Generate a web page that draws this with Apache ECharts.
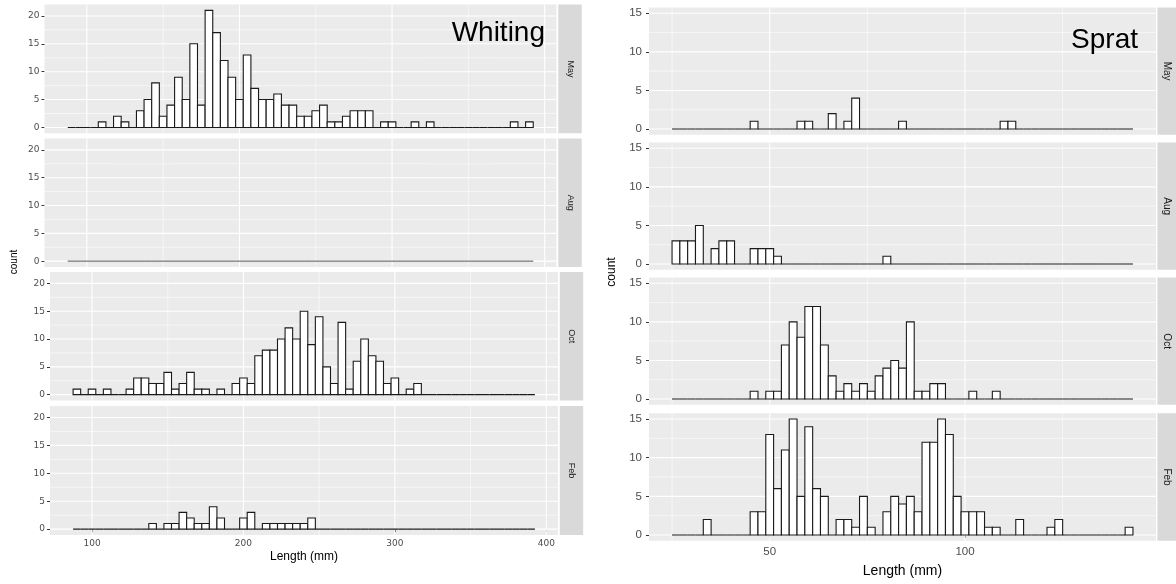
<!DOCTYPE html>
<html>
<head>
<meta charset="utf-8">
<title>Whiting and sprat length frequencies</title>
<script src="https://cdn.jsdelivr.net/npm/echarts@6/dist/echarts.min.js"></script>
<style>
  html, body { margin: 0; padding: 0; background: #fff; }
  #chart { width: 1176px; height: 584px; }
</style>
</head>
<body>
<div id="chart"></div>
<script>
// length bins in mm: start of first bin and bin width
var whitingStart = 87.5;
var whitingBinWidth = 5;
var spratStart = 25;
var spratBinWidth = 2;

var months = ['May', 'Aug', 'Oct', 'Feb'];

// counts per length bin
var whitingMay = [
  0, 0, 0, 0, 1, 0, 2, 1, 0, 3,
  5, 8, 2, 4, 9, 5, 15, 4, 21, 17,
  12, 9, 5, 13, 7, 5, 5, 6, 4, 4,
  2, 2, 3, 4, 1, 1, 2, 3, 3, 3,
  0, 1, 1, 0, 0, 1, 0, 1, 0, 0,
  0, 0, 0, 0, 0, 0, 0, 0, 1, 0,
  1
];
var whitingAug = []; // no whiting in August
var whitingOct = [
  1, 0, 1, 0, 1, 0, 0, 1, 3, 3,
  2, 2, 4, 1, 2, 4, 1, 1, 0, 1,
  0, 2, 3, 2, 7, 8, 8, 10, 12, 10,
  15, 9, 14, 5, 2, 13, 1, 6, 10, 7,
  6, 2, 3, 0, 1, 2, 0, 0, 0, 0,
  0, 0, 0, 0, 0, 0, 0, 0, 0, 0,
  0
];
var whitingFeb = [
  0, 0, 0, 0, 0, 0, 0, 0, 0, 0,
  1, 0, 1, 1, 3, 2, 1, 1, 4, 2,
  0, 0, 2, 3, 0, 1, 1, 1, 1, 1,
  1, 2, 0, 0, 0, 0, 0, 0, 0, 0,
  0, 0, 0, 0, 0, 0, 0, 0, 0, 0,
  0, 0, 0, 0, 0, 0, 0, 0, 0, 0,
  0
];

var spratMay = [
  0, 0, 0, 0, 0, 0, 0, 0, 0, 0,
  1, 0, 0, 0, 0, 0, 1, 1, 0, 0,
  2, 0, 1, 4, 0, 0, 0, 0, 0, 1,
  0, 0, 0, 0, 0, 0, 0, 0, 0, 0,
  0, 0, 1, 1, 0, 0, 0, 0, 0, 0,
  0, 0, 0, 0, 0, 0, 0, 0, 0
];
var spratAug = [
  3, 3, 3, 5, 0, 2, 3, 3, 0, 0,
  2, 2, 2, 1, 0, 0, 0, 0, 0, 0,
  0, 0, 0, 0, 0, 0, 0, 1, 0, 0,
  0, 0, 0, 0, 0, 0, 0, 0, 0, 0,
  0, 0, 0, 0, 0, 0, 0, 0, 0, 0,
  0, 0, 0, 0, 0, 0, 0, 0, 0
];
var spratOct = [
  0, 0, 0, 0, 0, 0, 0, 0, 0, 0,
  1, 0, 1, 1, 7, 10, 8, 12, 12, 7,
  3, 1, 2, 1, 2, 1, 3, 4, 5, 4,
  10, 1, 1, 2, 2, 0, 0, 0, 1, 0,
  0, 1, 0, 0, 0, 0, 0, 0, 0, 0,
  0, 0, 0, 0, 0, 0, 0, 0, 0
];
var spratFeb = [
  0, 0, 0, 0, 2, 0, 0, 0, 0, 0,
  3, 3, 13, 6, 11, 15, 5, 14, 6, 5,
  0, 2, 2, 1, 5, 1, 0, 3, 5, 4,
  5, 3, 12, 12, 15, 13, 5, 3, 3, 3,
  1, 1, 0, 0, 2, 0, 0, 0, 1, 2,
  0, 0, 0, 0, 0, 0, 0, 0, 1
];

var whitingTicks = [100, 200, 300, 400];
var whitingMinor = [150, 250, 350];
var whitingCountTicks = [0, 5, 10, 15, 20];
var whitingCountMinor = [2.5, 7.5, 12.5, 17.5];
var spratTicks = [50, 100];
var spratMinor = [25, 75, 125];
var spratCountTicks = [0, 5, 10, 15];
var spratCountMinor = [2.5, 7.5, 12.5];

// panel boxes in px (the two plots were pasted side by side)
var whitingPanels = [
  { top: 4.5, bottom: 133.3, left: 44.5, right: 556.5 },
  { top: 138.5, bottom: 267, left: 44.5, right: 556.5 },
  { top: 272, bottom: 400.5, left: 50, right: 558 },
  { top: 406, bottom: 535, left: 50, right: 558 }
];
var spratPanels = [
  { top: 7.5, bottom: 134.8, left: 649, right: 1156 },
  { top: 142.5, bottom: 269.8, left: 649, right: 1156 },
  { top: 277.5, bottom: 404.8, left: 649, right: 1156 },
  { top: 413.2, bottom: 540.8, left: 649, right: 1156 }
];

var columns = [
  {
    title: 'Whiting', titleX: 545, titleY: 33,
    start: whitingStart, binWidth: whitingBinWidth,
    counts: [whitingMay, whitingAug, whitingOct, whitingFeb],
    panels: whitingPanels,
    xTicks: whitingTicks, xMinor: whitingMinor,
    yTicks: whitingCountTicks, yMinor: whitingCountMinor,
    tickFont: 'DejaVu Sans', tickSize: 9, xMargin: 4, yMargin: 5,
    nameSize: 12, nameGap: 16, countX: 14, countY: 262, countSize: 10,
    stripGap: 1.8, stripWidth: 23.4, stripSize: 9
  },
  {
    title: 'Sprat', titleX: 1138, titleY: 40,
    start: spratStart, binWidth: spratBinWidth,
    counts: [spratMay, spratAug, spratOct, spratFeb],
    panels: spratPanels,
    xTicks: spratTicks, xMinor: spratMinor,
    yTicks: spratCountTicks, yMinor: spratCountMinor,
    tickFont: 'Liberation Sans', tickSize: 11.5, xMargin: 5, yMargin: 7,
    nameSize: 14, nameGap: 23, countX: 612, countY: 272, countSize: 12,
    stripGap: 1.4, stripWidth: 19.6, stripSize: 10
  }
];

function renderBar(lineWidth) {
  return function (params, api) {
    var lo = api.coord([api.value(0), 0]);
    var hi = api.coord([api.value(1), api.value(2)]);
    return {
      type: 'rect',
      shape: { x: lo[0], y: hi[1], width: hi[0] - lo[0], height: lo[1] - hi[1] },
      style: { fill: '#ffffff', stroke: lineWidth < 1 ? '#555' : '#1a1a1a', lineWidth: lineWidth }
    };
  };
}

function renderGridLine(params, api) {
  var cs = params.coordSys;
  var v = api.value(0);
  var w = api.value(2) ? 1.1 : 0.55;
  if (api.value(1)) {
    var px = api.coord([v, 0])[0];
    return { type: 'line', shape: { x1: px, y1: cs.y, x2: px, y2: cs.y + cs.height },
      style: { stroke: '#ffffff', lineWidth: w } };
  }
  var py = api.coord([v, v])[1];
  return { type: 'line', shape: { x1: cs.x, y1: py, x2: cs.x + cs.width, y2: py },
    style: { stroke: '#ffffff', lineWidth: w } };
}

var grids = [], xAxes = [], yAxes = [], series = [], graphic = [];

columns.forEach(function (col) {
  var nBins = Math.max.apply(null, col.counts.map(function (c) { return c.length; }));
  var end = col.start + nBins * col.binWidth;
  var span = end - col.start;
  var xMin = col.start - span * 0.05;
  var xMax = end + span * 0.05;
  var maxCount = Math.max.apply(null, col.counts.map(function (c) { return c.length ? Math.max.apply(null, c) : 0; }));
  var yMin = -maxCount * 0.05;
  var yMax = maxCount * 1.05;

  col.panels.forEach(function (p, r) {
    var k = grids.length;
    var isBottom = r === col.panels.length - 1;
    grids.push({ left: p.left, top: p.top, width: p.right - p.left, height: p.bottom - p.top,
      show: true, backgroundColor: '#ebebeb', borderWidth: 0 });

    xAxes.push({
      gridIndex: k, type: 'value', min: xMin, max: xMax,
      axisLine: { show: false }, splitLine: { show: false },
      axisTick: { show: isBottom, customValues: col.xTicks, length: 3, lineStyle: { color: '#333', width: 1 } },
      axisLabel: { show: isBottom, customValues: col.xTicks, color: '#4d4d4d',
        fontFamily: col.tickFont, fontSize: col.tickSize, margin: col.xMargin },
      name: isBottom ? 'Length (mm)' : '', nameLocation: 'middle', nameGap: col.nameGap,
      nameTextStyle: { color: '#000', fontFamily: 'Liberation Sans', fontSize: col.nameSize }
    });
    yAxes.push({
      gridIndex: k, type: 'value', min: yMin, max: yMax,
      axisLine: { show: false }, splitLine: { show: false },
      axisTick: { show: true, customValues: col.yTicks, length: 3, lineStyle: { color: '#333', width: 1 } },
      axisLabel: { customValues: col.yTicks, color: '#4d4d4d',
        fontFamily: col.tickFont, fontSize: col.tickSize, margin: col.yMargin }
    });

    var lines = [];
    col.xTicks.forEach(function (v) { lines.push([v, 1, 1]); });
    col.xMinor.forEach(function (v) { lines.push([v, 1, 0]); });
    col.yTicks.forEach(function (v) { lines.push([v, 0, 1]); });
    col.yMinor.forEach(function (v) { lines.push([v, 0, 0]); });
    series.push({
      type: 'custom', xAxisIndex: k, yAxisIndex: k, silent: true, z: 1,
      data: lines, encode: { x: 0, y: 0 }, renderItem: renderGridLine
    });

    var counts = col.counts[r];
    var bins = [];
    for (var i = 0; i < nBins; i++) {
      bins.push([col.start + i * col.binWidth, col.start + (i + 1) * col.binWidth, counts[i] || 0]);
    }
    series.push({
      type: 'custom', xAxisIndex: k, yAxisIndex: k, z: 2,
      data: bins, encode: { x: [0, 1], y: 2 },
      renderItem: renderBar(counts.length ? 1.1 : 0.6)
    });

    // facet strip
    graphic.push({ type: 'rect', silent: true,
      shape: { x: p.right + col.stripGap, y: p.top, width: col.stripWidth, height: p.bottom - p.top },
      style: { fill: '#d9d9d9' } });
    graphic.push({ type: 'text', silent: true,
      x: p.right + col.stripGap + col.stripWidth / 2, y: (p.top + p.bottom) / 2, rotation: -Math.PI / 2,
      style: { text: months[r], fill: '#1a1a1a', font: col.stripSize + 'px "Liberation Sans"',
        align: 'center', verticalAlign: 'middle' } });
  });

  graphic.push({ type: 'text', silent: true, x: col.countX, y: col.countY, rotation: Math.PI / 2,
    style: { text: 'count', fill: '#000', font: col.countSize + 'px "Liberation Sans"',
      align: 'center', verticalAlign: 'middle' } });
  graphic.push({ type: 'text', silent: true, x: col.titleX, y: col.titleY, z: 10,
    style: { text: col.title, fill: '#000', font: '28px "Liberation Sans"',
      align: 'right', verticalAlign: 'middle' } });
});

var chart = echarts.init(document.getElementById('chart'));
chart.setOption({
  backgroundColor: '#ffffff',
  animation: false,
  grid: grids,
  xAxis: xAxes,
  yAxis: yAxes,
  series: series,
  graphic: graphic
});
</script>
</body>
</html>
